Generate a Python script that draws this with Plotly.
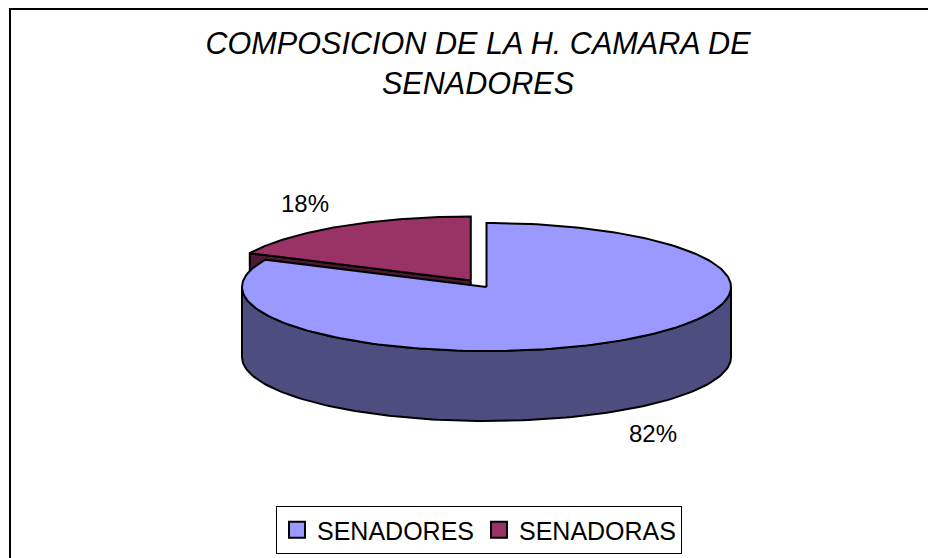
import numpy as np
import plotly.graph_objects as go

# ---- data ----
categories = ["SENADORES", "SENADORAS"]
values = [105, 23]
top_colors = ["#9999FF", "#993366"]
side_colors = ["#4D4D80", "#4D1A33"]
explode = [0.0, 0.12]
title_text = "COMPOSICION DE LA H. CAMARA DE<br>SENADORES"

# ---- canvas: page is 936x558, page body has an 8px margin ----
PW, PH = 936, 558
OFF = 8
W, H = PW - OFF, PH - OFF
cx, cy = 486.5, 287.0
rx, ry = 244.5, 64.0
depth = 70.0

total = float(sum(values))
fracs = [v / total for v in values]
starts = np.cumsum([0.0] + fracs[:-1]) * 360.0
ends = np.cumsum(fracs) * 360.0


def pt(theta_deg, ox, oy, h=0.0):
    t = np.radians(theta_deg)
    return cx + ox + rx * np.sin(t), cy + oy - ry * np.cos(t) + h


fig = go.Figure()


def add_poly(xs, ys, color):
    fig.add_trace(go.Scatter(
        x=list(xs) + [xs[0]], y=list(ys) + [ys[0]], mode="lines", fill="toself",
        fillcolor=color, line=dict(color="black", width=2),
        hoverinfo="skip", showlegend=False))


slices = []
for i in range(len(values)):
    a0, a1 = starts[i], ends[i]
    mid = (a0 + a1) / 2
    ox = explode[i] * rx * np.sin(np.radians(mid))
    oy = -explode[i] * ry * np.cos(np.radians(mid))
    slices.append((i, a0, a1, mid, ox, oy))

# back to front
slices.sort(key=lambda s: -np.cos(np.radians(s[3])))

labels = []
for (i, a0, a1, mid, ox, oy) in slices:
    c_top = (cx + ox, cy + oy)
    # radial faces
    for ang, normal in ((a0, a0 - 90), (a1, a1 + 90)):
        if np.cos(np.radians(normal)) < -1e-6:
            ex, ey = pt(ang, ox, oy)
            add_poly([c_top[0], ex, ex, c_top[0]],
                     [c_top[1], ey, ey + depth, c_top[1] + depth], side_colors[i])
    # outer side (front half 90..270)
    lo, hi = max(a0, 90.0), min(a1, 270.0)
    if hi > lo:
        th = np.linspace(lo, hi, 120)
        tx, ty = pt(th, ox, oy)
        bx, by = pt(th[::-1], ox, oy, depth)
        add_poly(np.concatenate([tx, bx]), np.concatenate([ty, by]), side_colors[i])
    # top
    th = np.linspace(a0, a1, 200)
    ax_, ay_ = pt(th, ox, oy)
    add_poly(np.concatenate([[c_top[0]], ax_]), np.concatenate([[c_top[1]], ay_]), top_colors[i])

    # label position (outside end)
    front = -np.cos(np.radians(mid)) > 0
    hh = depth if front else 0.0
    lx, ly = pt(mid, ox, oy, hh)
    dxl = (lx - cx - ox) * 0.27
    dyl = (ly - (cy + oy + hh)) * 0.42
    labels.append((lx + dxl, ly + dyl, f"{round(100 * values[i] / total)}%"))

for (lx, ly, txt) in labels:
    fig.add_annotation(x=lx, y=ly, text=txt, showarrow=False,
                       font=dict(family="Liberation Sans, Arial", size=24, color="black"),
                       xanchor="center", yanchor="middle")

# legend entries
for i, name in enumerate(categories):
    fig.add_trace(go.Scatter(
        x=[None], y=[None], mode="markers", name=name,
        marker=dict(symbol="square", size=16, color=top_colors[i],
                    line=dict(color="black", width=2))))

# chart-area frame (continues past the right and bottom edges)
fig.add_shape(type="rect", x0=10, y0=9, x1=PW + 20, y1=PH + 20,
              line=dict(color="black", width=2), fillcolor="rgba(0,0,0,0)", layer="below")

fig.update_layout(
    width=W, height=H,
    margin=dict(l=0, r=0, t=0, b=0),
    paper_bgcolor="white", plot_bgcolor="white",
    xaxis=dict(range=[OFF, PW], visible=False, fixedrange=True),
    yaxis=dict(range=[PH, OFF], visible=False, fixedrange=True),
    title=dict(text=title_text, x=(478 - OFF) / W, xanchor="center",
               y=1 - 46 / H, yanchor="top", yref="container",
               font=dict(family="Liberation Sans, Arial", size=30.6, color="black", style="italic")),
    legend=dict(orientation="h", x=(479 - OFF) / W, xanchor="center",
                y=1 - (554 - OFF) / H, yanchor="bottom",
                bordercolor="black", borderwidth=1, bgcolor="white",
                font=dict(family="Liberation Sans, Arial", size=25, color="black"),
                itemwidth=30, tracegroupgap=0),
    showlegend=True,
)

fig.write_html("out.html")
